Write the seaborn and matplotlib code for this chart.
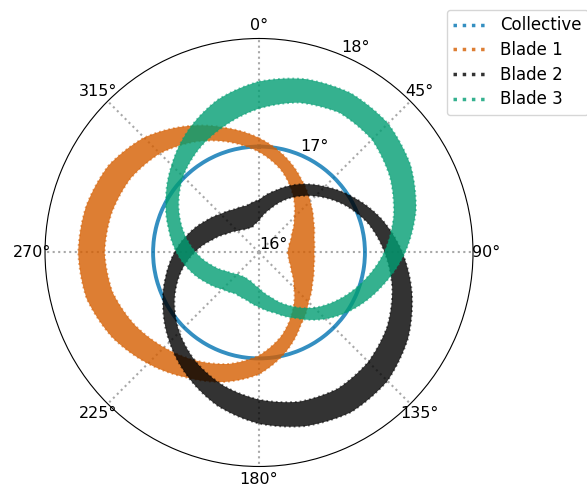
import numpy as np
import matplotlib
matplotlib.use("Agg")
import matplotlib.pyplot as plt
from matplotlib.lines import Line2D
from matplotlib.path import Path
from matplotlib.patches import PathPatch
import seaborn as sns

azimuth = [0, 15, 30, 45, 60, 75, 90, 105, 120, 135, 150, 165,
           180, 195, 210, 225, 240, 255, 270, 285, 300, 315, 330, 345]

# pitch angle (deg)
collective = [16.99, 16.99, 16.99, 16.99, 16.99, 16.99, 16.99, 16.99,
              16.99, 16.99, 16.99, 16.99, 16.99, 16.99, 16.99, 16.99,
              16.99, 16.99, 16.99, 16.99, 16.99, 16.99, 16.99, 16.99]

# each blade: lower / upper edge of the band over the revolutions
blade1_lo = [16.940, 16.798, 16.630, 16.465, 16.353, 16.290, 16.265, 16.288, 16.348, 16.460, 16.628, 16.808,
             16.963, 17.078, 17.168, 17.255, 17.346, 17.419, 17.443, 17.426, 17.386, 17.310, 17.195, 17.068]
blade1_hi = [17.070, 16.930, 16.790, 16.675, 16.588, 16.533, 16.515, 16.530, 16.576, 16.655, 16.781, 16.963,
             17.138, 17.253, 17.350, 17.468, 17.585, 17.668, 17.690, 17.673, 17.625, 17.519, 17.363, 17.206]

blade2_lo = [16.296, 16.426, 16.590, 16.745, 16.905, 17.055, 17.175, 17.289, 17.384, 17.445, 17.471, 17.444,
             17.375, 17.288, 17.180, 17.053, 16.913, 16.763, 16.603, 16.453, 16.348, 16.285, 16.249, 16.244]
blade2_hi = [16.492, 16.600, 16.735, 16.870, 17.025, 17.190, 17.340, 17.480, 17.608, 17.698, 17.723, 17.680,
             17.600, 17.485, 17.336, 17.183, 17.036, 16.905, 16.790, 16.681, 16.583, 16.508, 16.465, 16.453]

blade3_lo = [17.345, 17.450, 17.508, 17.493, 17.413, 17.303, 17.170, 17.015, 16.870, 16.730, 16.575, 16.433,
             16.333, 16.280, 16.265, 16.285, 16.350, 16.458, 16.590, 16.728, 16.868, 17.005, 17.120, 17.228]
blade3_hi = [17.598, 17.678, 17.718, 17.705, 17.635, 17.518, 17.365, 17.195, 17.038, 16.878, 16.710, 16.585,
             16.510, 16.458, 16.443, 16.485, 16.565, 16.665, 16.770, 16.876, 17.004, 17.154, 17.321, 17.480]

labels = ["Collective", "Blade 1", "Blade 2", "Blade 3"]

pal = sns.color_palette("colorblind")
colors = [pal[0], pal[3], "black", pal[2]]

STEPS = 16  # let the polar transform bend each segment


def closed(v):
    # repeat first value so the ring closes at 360
    return np.append(np.asarray(v, dtype=float), v[0])


th = np.deg2rad(closed(azimuth))
th[-1] = 2 * np.pi

fig = plt.figure(figsize=(5.87, 4.88), dpi=100)
ax = fig.add_axes([0.0767, 0.0441, 0.7291, 0.877], projection="polar")
ax.set_theta_zero_location("N")
ax.set_theta_direction(-1)

sns.lineplot(x=th, y=closed(collective), ax=ax, color=colors[0], lw=2.8,
             alpha=0.8, sort=False, estimator=None, zorder=3)
ax.lines[-1].get_path()._interpolation_steps = STEPS

bands = [(blade1_lo, blade1_hi), (blade2_lo, blade2_hi), (blade3_lo, blade3_hi)]
for (lo, hi), c in zip(bands, colors[1:]):
    lo, hi = closed(lo), closed(hi)
    n = len(th)
    verts = np.concatenate([np.column_stack([th, hi]),
                            np.column_stack([th[::-1], lo[::-1]])])
    codes = np.full(2 * n, Path.LINETO, dtype=Path.code_type)
    codes[0] = Path.MOVETO
    codes[n] = Path.MOVETO
    ring = Path(verts, codes, _interpolation_steps=STEPS)
    ax.add_patch(PathPatch(ring, facecolor=c, edgecolor="none", alpha=0.8, zorder=3))
    # ragged rim of the band
    for edge in (lo, hi):
        ln, = ax.plot(th, edge, ls=":", lw=1.3, color=c, alpha=0.55, zorder=3)
        ln.get_path()._interpolation_steps = STEPS

ax.set_rlim(16, 18)
ax.set_rticks([16, 17, 18])
ax.set_yticklabels(["16°", "17°", "18°"])
ax.set_xlabel("")
ax.set_ylabel("")
ax.tick_params(labelsize=11.5)
ax.tick_params(axis="x", pad=-1)
ax.xaxis.grid(True, linestyle=":", linewidth=1.5, color="#a8a8a8")
ax.yaxis.grid(False)
ax.spines["polar"].set_linewidth(0.8)

handles = [Line2D([], [], color=c, ls=":", lw=2.5, alpha=0.8) for c in colors]
fig.legend(handles, labels, loc="upper left", bbox_to_anchor=(0.761, 0.98),
           borderaxespad=0, labelspacing=0.4, fontsize=12)

fig.savefig("out.png", dpi=100)
